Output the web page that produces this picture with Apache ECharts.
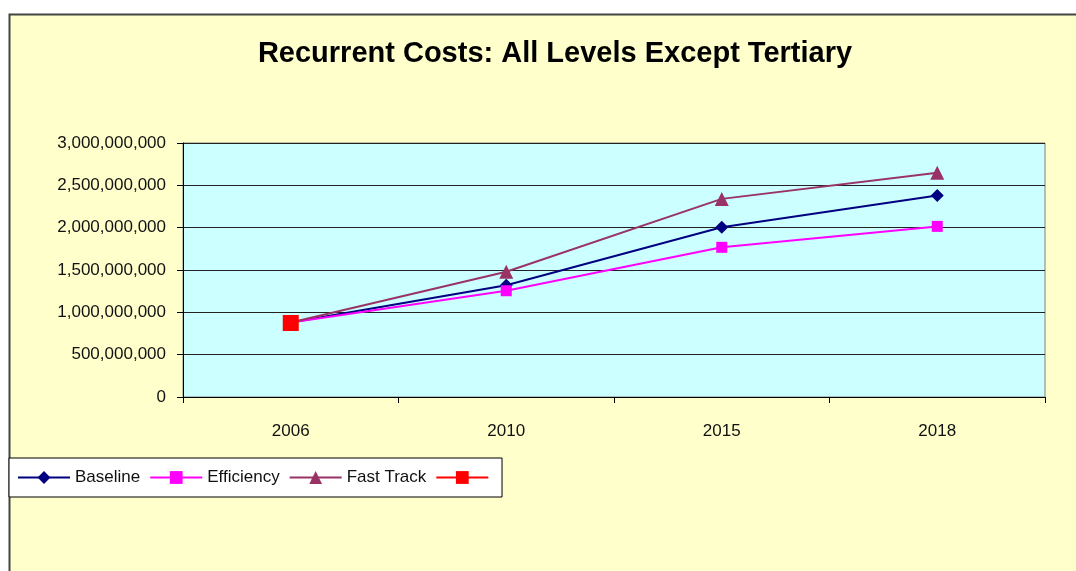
<!DOCTYPE html>
<html>
<head>
<meta charset="utf-8">
<script src="https://cdn.jsdelivr.net/npm/echarts@6/dist/echarts.min.js"></script>
<style>
    html, body { margin: 0; padding: 0; background: #fff; }
    #chart { width: 1076px; height: 571px; }
</style>
</head>
<body>
<div id="chart"></div>
<script>
// categories and series values
var years = ['2006', '2010', '2015', '2018'];
var baseline = [880000000, 1320000000, 2005000000, 2380000000];
var efficiency = [880000000, 1255000000, 1768000000, 2015000000];
var fastTrack = [880000000, 1480000000, 2340000000, 2650000000];
var extra = [874000000, null, null, null];
var yTicks = [0, 500000000, 1000000000, 1500000000, 2000000000, 2500000000, 3000000000];

var font = 'Liberation Sans, Arial, sans-serif';

var myChart = echarts.init(document.getElementById('chart'));

function addCommas(v) {
    return String(v).replace(/\B(?=(\d{3})+(?!\d))/g, ',');
}

var option = {
    backgroundColor: '#fff',
    animation: false,
    graphic: [
        {
            type: 'rect',
            z: -10,
            shape: { x: 9.5, y: 14.5, width: 1080, height: 570 },
            style: { fill: '#FFFFCC', stroke: '#444', lineWidth: 2 }
        }
    ],
    title: {
        text: 'Recurrent Costs: All Levels Except Tertiary',
        left: 550,
        textAlign: 'center',
        top: 34,
        textStyle: { fontFamily: font, fontSize: 29, fontWeight: 'bold', color: '#000' }
    },
    legend: {
        left: 9,
        top: 458,
        padding: [11, 4, 11, 8],
        backgroundColor: '#fff',
        borderColor: '#000',
        borderWidth: 1,
        borderRadius: 0,
        itemWidth: 52,
        itemHeight: 16,
        itemGap: 9,
        data: ['Baseline', 'Efficiency', 'Fast Track', ' '],
        textStyle: { fontFamily: font, fontSize: 17, color: '#111' }
    },
    grid: {
        left: 183,
        right: 31,
        top: 143,
        bottom: 174,
        show: true,
        backgroundColor: '#CCFFFF',
        borderColor: '#808080',
        borderWidth: 1
    },
    xAxis: {
        type: 'category',
        data: years,
        boundaryGap: true,
        axisLine: { lineStyle: { color: '#000', width: 1 } },
        axisTick: { show: true, length: 6, lineStyle: { color: '#000' } },
        axisLabel: { margin: 26, fontFamily: font, fontSize: 17, color: '#111' }
    },
    yAxis: {
        type: 'value',
        min: 0,
        max: 3000000000,
        interval: 500000000,
        axisLine: { show: true, lineStyle: { color: '#000', width: 1 } },
        axisTick: { show: true, length: 6, lineStyle: { color: '#000' } },
        splitLine: { show: true, lineStyle: { color: '#222', width: 1 } },
        axisLabel: {
            margin: 17,
            fontFamily: font,
            fontSize: 17,
            color: '#111',
            formatter: function (v) {
                return yTicks.indexOf(v) >= 0 ? addCommas(v) : '';
            }
        }
    },
    series: [
        {
            name: 'Baseline',
            type: 'line',
            data: baseline,
            symbol: 'diamond',
            symbolSize: 13,
            itemStyle: { color: '#000080' },
            lineStyle: { color: '#000080', width: 2 }
        },
        {
            name: 'Efficiency',
            type: 'line',
            data: efficiency,
            symbol: 'rect',
            symbolSize: 11,
            itemStyle: { color: '#FF00FF' },
            lineStyle: { color: '#FF00FF', width: 2 }
        },
        {
            name: 'Fast Track',
            type: 'line',
            data: fastTrack,
            symbol: 'triangle',
            symbolSize: 14,
            itemStyle: { color: '#993366' },
            lineStyle: { color: '#993366', width: 2 }
        },
        {
            name: ' ',
            type: 'line',
            data: extra,
            symbol: 'rect',
            symbolSize: 16,
            itemStyle: { color: '#FF0000' },
            lineStyle: { color: '#FF0000', width: 2 }
        }
    ]
};

myChart.setOption(option);
</script>
</body>
</html>
